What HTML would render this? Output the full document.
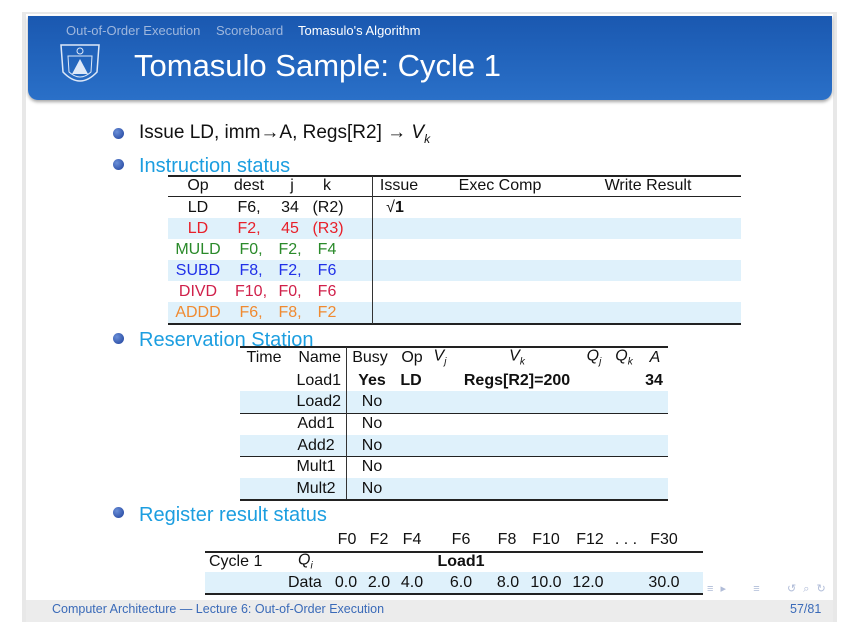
<!DOCTYPE html>
<html><head><meta charset="utf-8"><style>
body{margin:0;width:857px;height:622px;background:#fff;position:relative;overflow:hidden;font-family:"Liberation Sans",sans-serif;}
.a{position:absolute;white-space:nowrap;line-height:1;}
.t{font-size:16px;color:#111;transform:translateY(-50%);}
.c{transform:translate(-50%,-50%);}
.r{transform:translate(-100%,-50%);}
.band{position:absolute;background:#dff1fb;}
.rule{position:absolute;background:#222;height:1.5px;}
.vr{position:absolute;background:#333;width:1px;}
.bul{position:absolute;width:11px;height:11px;border-radius:50%;background:radial-gradient(circle at 35% 35%,#6a8fd8,#1d3f9a);}
.cy{color:#1c9ee0;font-size:20px;transform:translateY(-50%);}
</style></head><body>
<div style="position:absolute;left:22px;top:12px;width:815px;height:610px;background:#e8e8e8;"></div>
<div style="position:absolute;left:26px;top:14px;width:807px;height:608px;background:#fff;"></div>
<div style="position:absolute;left:28px;top:16px;width:804px;height:84px;background:linear-gradient(#1a58b0,#2a70c8);border-radius:0 0 10px 10px;box-shadow:0 2px 3px rgba(0,0,0,.35);"></div>
<div class="a" style="left:66px;top:24px;font-size:13px;color:#9fb7dd;">Out-of-Order Execution</div>
<div class="a" style="left:216px;top:24px;font-size:13px;color:#9fb7dd;">Scoreboard</div>
<div class="a" style="left:298px;top:24px;font-size:13px;color:#fff;">Tomasulo's Algorithm</div>
<svg style="position:absolute;left:58px;top:42px" width="44" height="50"><path d="M3 3 L41 3 L39 30 Q22 48 5 30 Z" fill="none" stroke="#dde8f8" stroke-width="1.5"/><path d="M10 14 L34 14 L33 30 Q22 40 11 30Z" fill="none" stroke="#dde8f8"/><path d="M22 17 L30 32 L14 32Z" fill="#dde8f8"/><circle cx="22" cy="9" r="3" fill="none" stroke="#dde8f8"/></svg>
<div class="a" style="left:134px;top:50px;font-size:31px;color:#fff;">Tomasulo Sample: Cycle 1</div>

<div class="bul" style="left:113px;top:128px;"></div>
<div class="a" style="left:139px;top:134px;font-size:19px;color:#111;transform:translateY(-50%);">Issue LD, imm→A, Regs[R2] → <i>V<sub style="font-size:12px">k</sub></i></div>
<div class="bul" style="left:113px;top:159px;"></div>
<div class="a cy" style="left:139px;top:166px;">Instruction status</div>

<!-- instruction table -->
<div class="band" style="left:168px;top:218px;width:573px;height:21px;"></div>
<div class="band" style="left:168px;top:260px;width:573px;height:21px;"></div>
<div class="band" style="left:168px;top:302px;width:573px;height:21px;"></div>
<div class="rule" style="left:168px;top:175px;width:573px;"></div>
<div class="rule" style="left:168px;top:196px;width:573px;height:1px;"></div>
<div class="rule" style="left:168px;top:323px;width:573px;"></div>
<div class="vr" style="left:372px;top:176px;height:148px;"></div>
<div>
<div class="a t c" style="left:198px;top:186px;">Op</div><div class="a t c" style="left:249px;top:186px;">dest</div><div class="a t c" style="left:292px;top:186px;">j</div><div class="a t c" style="left:327px;top:186px;">k</div>
<div class="a t c" style="left:399px;top:186px;">Issue</div><div class="a t c" style="left:500px;top:186px;">Exec Comp</div><div class="a t c" style="left:648px;top:186px;">Write Result</div>
<div class="a t c" style="left:198px;top:208px;">LD</div><div class="a t c" style="left:249px;top:208px;">F6,</div><div class="a t c" style="left:290px;top:208px;">34</div><div class="a t c" style="left:328px;top:208px;">(R2)</div><div class="a t c" style="left:395px;top:208px;">√<b>1</b></div>
<div class="a t c" style="left:198px;top:229px;color:#e8202a">LD</div><div class="a t c" style="left:249px;top:229px;color:#e8202a">F2,</div><div class="a t c" style="left:290px;top:229px;color:#e8202a">45</div><div class="a t c" style="left:328px;top:229px;color:#e8202a">(R3)</div>
<div class="a t c" style="left:198px;top:250px;color:#2a8a2a">MULD</div><div class="a t c" style="left:251px;top:250px;color:#2a8a2a">F0,</div><div class="a t c" style="left:290px;top:250px;color:#2a8a2a">F2,</div><div class="a t c" style="left:327px;top:250px;color:#2a8a2a">F4</div>
<div class="a t c" style="left:198px;top:271px;color:#2030e8">SUBD</div><div class="a t c" style="left:251px;top:271px;color:#2030e8">F8,</div><div class="a t c" style="left:290px;top:271px;color:#2030e8">F2,</div><div class="a t c" style="left:327px;top:271px;color:#2030e8">F6</div>
<div class="a t c" style="left:198px;top:292px;color:#d0204a">DIVD</div><div class="a t c" style="left:251px;top:292px;color:#d0204a">F10,</div><div class="a t c" style="left:290px;top:292px;color:#d0204a">F0,</div><div class="a t c" style="left:327px;top:292px;color:#d0204a">F6</div>
<div class="a t c" style="left:198px;top:313px;color:#f08a30">ADDD</div><div class="a t c" style="left:251px;top:313px;color:#f08a30">F6,</div><div class="a t c" style="left:290px;top:313px;color:#f08a30">F8,</div><div class="a t c" style="left:327px;top:313px;color:#f08a30">F2</div>
</div>

<div class="bul" style="left:113px;top:333px;"></div>
<div class="a cy" style="left:139px;top:340px;">Reservation Station</div>
<div class="band" style="left:240px;top:391px;width:428px;height:22px;"></div>
<div class="band" style="left:240px;top:435px;width:428px;height:21px;"></div>
<div class="band" style="left:240px;top:478px;width:428px;height:21px;"></div>
<div class="rule" style="left:240px;top:346px;width:428px;"></div>
<div class="rule" style="left:240px;top:413px;width:428px;height:1px;"></div>
<div class="rule" style="left:240px;top:456px;width:428px;height:1px;"></div>
<div class="rule" style="left:240px;top:499px;width:428px;"></div>
<div class="vr" style="left:346px;top:347px;height:152px;"></div>
<div>
<div class="a t c" style="left:264px;top:358px;">Time</div><div class="a t r" style="left:341px;top:358px;">Name</div><div class="a t c" style="left:370px;top:358px;">Busy</div><div class="a t c" style="left:412px;top:358px;">Op</div><div class="a t c" style="left:440px;top:358px;"><i>V<sub style="font-size:10px">j</sub></i></div><div class="a t c" style="left:517px;top:358px;"><i>V<sub style="font-size:10px">k</sub></i></div><div class="a t c" style="left:594px;top:358px;"><i>Q<sub style="font-size:10px">j</sub></i></div><div class="a t c" style="left:624px;top:358px;"><i>Q<sub style="font-size:10px">k</sub></i></div><div class="a t c" style="left:655px;top:358px;"><i>A</i></div>
<div class="a t r" style="left:341px;top:381px;">Load1</div><div class="a t c" style="left:372px;top:381px;font-weight:bold">Yes</div><div class="a t c" style="left:411px;top:381px;font-weight:bold">LD</div><div class="a t c" style="left:517px;top:381px;font-weight:bold">Regs[R2]=200</div><div class="a t c" style="left:654px;top:381px;font-weight:bold">34</div>
<div class="a t r" style="left:341px;top:402px;">Load2</div><div class="a t c" style="left:372px;top:402px;">No</div>
<div class="a t c" style="left:316px;top:424px;">Add1</div><div class="a t c" style="left:372px;top:424px;">No</div>
<div class="a t c" style="left:316px;top:446px;">Add2</div><div class="a t c" style="left:372px;top:446px;">No</div>
<div class="a t c" style="left:316px;top:467px;">Mult1</div><div class="a t c" style="left:372px;top:467px;">No</div>
<div class="a t c" style="left:316px;top:489px;">Mult2</div><div class="a t c" style="left:372px;top:489px;">No</div>
</div>

<div class="bul" style="left:113px;top:507px;"></div>
<div class="a cy" style="left:139px;top:515px;">Register result status</div>
<div class="band" style="left:205px;top:572px;width:498px;height:21px;"></div>
<div class="rule" style="left:205px;top:551px;width:498px;"></div>
<div class="rule" style="left:205px;top:593px;width:498px;"></div>
<div>
<div class="a t c" style="left:347px;top:540px;">F0</div><div class="a t c" style="left:379px;top:540px;">F2</div><div class="a t c" style="left:412px;top:540px;">F4</div><div class="a t c" style="left:461px;top:540px;">F6</div><div class="a t c" style="left:507px;top:540px;">F8</div><div class="a t c" style="left:546px;top:540px;">F10</div><div class="a t c" style="left:590px;top:540px;">F12</div><div class="a t c" style="left:626px;top:540px;">. . .</div><div class="a t c" style="left:664px;top:540px;">F30</div>
<div class="a t" style="left:209px;top:562px;">Cycle 1</div><div class="a t" style="left:298px;top:562px;"><i>Q<sub style="font-size:10px">i</sub></i></div><div class="a t c" style="left:461px;top:562px;font-weight:bold">Load1</div>
<div class="a t" style="left:288px;top:583px;">Data</div><div class="a t c" style="left:346px;top:583px;">0.0</div><div class="a t c" style="left:379px;top:583px;">2.0</div><div class="a t c" style="left:412px;top:583px;">4.0</div><div class="a t c" style="left:461px;top:583px;">6.0</div><div class="a t c" style="left:508px;top:583px;">8.0</div><div class="a t c" style="left:546px;top:583px;">10.0</div><div class="a t c" style="left:588px;top:583px;">12.0</div><div class="a t c" style="left:664px;top:583px;">30.0</div>
</div>

<div class="a" style="left:707px;top:584px;font-size:11px;color:#b0bcd8;letter-spacing:2px;">≡ ▸ &nbsp;&nbsp;&nbsp; ≡ &nbsp;&nbsp;&nbsp; ↺ ⌕ ↻</div>
<div style="position:absolute;left:26px;top:600px;width:807px;height:22px;background:#ececec;"></div>
<div class="a" style="left:52px;top:603px;font-size:12.5px;color:#3a6ab8;">Computer Architecture — Lecture 6: Out-of-Order Execution</div>
<div class="a" style="left:790px;top:603px;font-size:12.5px;color:#3a6ab8;">57/81</div>
</body></html>
